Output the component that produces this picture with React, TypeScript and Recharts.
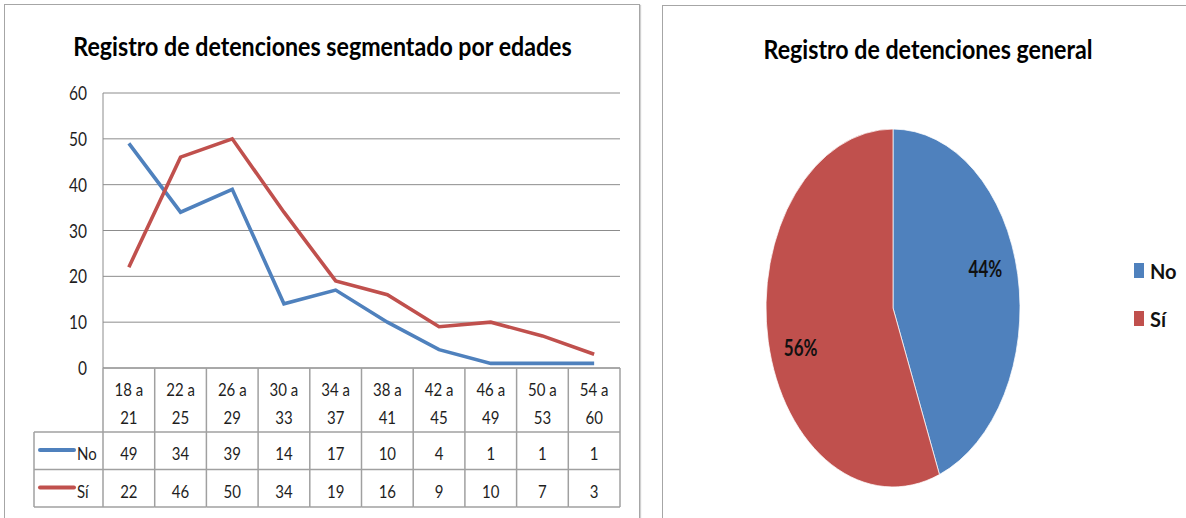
import React from 'react';
import { LineChart, Line, XAxis, YAxis, CartesianGrid, Legend, PieChart, Pie, Cell } from 'recharts';

const categories = ['18 a 21', '22 a 25', '26 a 29', '30 a 33', '34 a 37', '38 a 41', '42 a 45', '46 a 49', '50 a 53', '54 a 60'];
const seriesNo = [49, 34, 39, 14, 17, 10, 4, 1, 1, 1];
const seriesSi = [22, 46, 50, 34, 19, 16, 9, 10, 7, 3];
const yTicks = [0, 10, 20, 30, 40, 50, 60];
const seriesNames = ['No', 'Sí'];
const pieNames = ['No', 'Sí'];
const pieValues = [170, 216];

const titleLine = 'Registro de detenciones segmentado por edades';
const titlePie = 'Registro de detenciones general';

const BLUE = '#4F81BD';
const RED = '#C0504D';
const FONT = 'Lato, "Open Sans", sans-serif';
const TXT = '#1e1e1e';
const GRID = '#8c8c8c';
const TABLE = '#a0a0a0';
const SY = 1.18;

const lineData = categories.map((c, i) => ({ cat: c, No: seriesNo[i], Si: seriesSi[i] }));
const pieData = pieNames.map((n, i) => ({ name: n, value: pieValues[i] }));
const PIE_COLORS = [BLUE, RED];

// layout
const PLOT_LEFT = 103;
const PLOT_RIGHT = 620;
const COL_W = (PLOT_RIGHT - PLOT_LEFT) / categories.length;
const HEADER_H = 64;
const ROW_H = 37.5;

function SText(props: any) {
  const { x, y, size = 15, weight = 400, anchor = 'middle', fill = TXT, sy = SY, children } = props;
  return (
    <text
      transform={`translate(${x},${y}) scale(1,${sy})`}
      x={0}
      y={0}
      textAnchor={anchor}
      dominantBaseline="central"
      fontSize={size}
      fontWeight={weight}
      fontFamily={FONT}
      fill={fill}
    >
      {children}
    </text>
  );
}

function YTick(props: any) {
  const { x, y, payload } = props;
  return <SText x={x} y={y} anchor="end" size={15.5}>{payload.value}</SText>;
}

function TableTick(props: any) {
  const { x, y, payload, index } = props;
  const top = y;
  const left = x - COL_W / 2;
  const right = x + COL_W / 2;
  const r1 = top + HEADER_H;
  const r2 = r1 + ROW_H;
  const r3 = r2 + ROW_H;
  const parts = String(payload.value).split(' a ');
  return (
    <g>
      {index === 0 && <line x1={left} x2={left} y1={top} y2={r3} stroke={TABLE} strokeWidth={1.5} />}
      <line x1={right} x2={right} y1={top} y2={r3} stroke={TABLE} strokeWidth={1.5} />
      <line x1={left} x2={right} y1={r1} y2={r1} stroke={TABLE} strokeWidth={1.5} />
      <line x1={left} x2={right} y1={r2} y2={r2} stroke={TABLE} strokeWidth={1.5} />
      <line x1={left} x2={right} y1={r3} y2={r3} stroke={TABLE} strokeWidth={1.5} />
      <SText x={x} y={top + 21}>{parts[0] + ' a'}</SText>
      <SText x={x} y={top + 49}>{parts[1]}</SText>
      <SText x={x} y={r1 + 21}>{seriesNo[index]}</SText>
      <SText x={x} y={r2 + 21}>{seriesSi[index]}</SText>
    </g>
  );
}

function TableLegend(props: any) {
  const { payload } = props;
  return (
    <svg width={71} height={77} style={{ display: 'block', overflow: 'visible' }}>
      <line x1={1} x2={1} y1={0} y2={75} stroke={TABLE} strokeWidth={1.5} />
      <line x1={1} x2={70} y1={0} y2={0} stroke={TABLE} strokeWidth={1.5} />
      <line x1={1} x2={70} y1={37.5} y2={37.5} stroke={TABLE} strokeWidth={1.5} />
      <line x1={1} x2={70} y1={75} y2={75} stroke={TABLE} strokeWidth={1.5} />
      {(payload || []).map((p: any, i: number) => (
        <g key={i}>
          <line x1={7} x2={41} y1={18 + i * 37.5} y2={18 + i * 37.5} stroke={p.color} strokeWidth={4} strokeLinecap="round" />
          <SText x={44} y={21 + i * 37.5} anchor="start">{p.value}</SText>
        </g>
      ))}
    </svg>
  );
}

function PieLegend(props: any) {
  const { payload } = props;
  return (
    <div>
      {(payload || []).map((p: any, i: number) => (
        <div key={i} style={{ display: 'flex', alignItems: 'center', height: 30, marginBottom: i === 0 ? 18 : 0 }}>
          <div style={{ width: 10, height: 15, background: p.color, marginRight: 6 }} />
          <span style={{ fontFamily: FONT, fontWeight: 700, fontSize: 20, color: '#111', display: 'inline-block', transform: 'scaleY(1.08)' }}>{p.value}</span>
        </div>
      ))}
    </div>
  );
}

const RADIAN = Math.PI / 180;
function PieLabel(props: any) {
  const { cx, cy, midAngle, outerRadius, percent } = props;
  const r = outerRadius * 0.74;
  const x = cx + r * Math.cos(-midAngle * RADIAN);
  const y = cy + r * Math.sin(-midAngle * RADIAN) * 2.25;
  return <SText x={x} y={y} size={17} weight={700} fill="#111" sy={1.3}>{`${Math.round(percent * 100)}%`}</SText>;
}

function Title(props: any) {
  const { text, left, width, cy } = props;
  return (
    <div style={{ position: 'absolute', left, width, top: cy - 20, height: 40, lineHeight: '40px', textAlign: 'center', whiteSpace: 'nowrap' }}>
      <span style={{ display: 'inline-block', fontFamily: FONT, fontWeight: 700, fontSize: 23.2, color: '#000', transform: 'scaleY(1.15)' }}>{text}</span>
    </div>
  );
}

export default function App() {
  return (
    <div style={{ position: 'absolute', left: 0, top: 0, width: 1186, height: 518, overflow: 'hidden', background: '#fff' }}>
      <style>{`.pie-ellipse path.recharts-sector { transform-box: view-box; transform-origin: 230px 308px; transform: scaleY(1.409); }`}</style>
      <div style={{ position: 'absolute', left: 4, top: 4, width: 634, height: 540, border: '1.5px solid #a6a6a6', boxShadow: '1px 1px 1px #d0d0d0' }} />
      <div style={{ position: 'absolute', left: 662, top: 5, width: 540, height: 540, border: '1.5px solid #a6a6a6' }} />
      <Title text={titleLine} left={5} width={635} cy={46} />
      <Title text={titlePie} left={663} width={530} cy={49} />

      <div style={{ position: 'absolute', left: 0, top: 0 }}>
        <LineChart width={640} height={518} data={lineData} margin={{ top: 93, right: 20, left: 0, bottom: 120 }}>
          <CartesianGrid vertical={false} stroke={GRID} strokeWidth={1} />
          <XAxis
            dataKey="cat"
            height={30}
            interval={0}
            padding={{ left: COL_W / 2, right: COL_W / 2 }}
            axisLine={{ stroke: GRID }}
            tickLine={false}
            tickSize={0}
            tickMargin={0}
            tick={<TableTick />}
          />
          <YAxis
            width={103}
            domain={[0, 60]}
            ticks={yTicks}
            interval={0}
            axisLine={{ stroke: GRID }}
            tickLine={false}
            tickSize={0}
            tickMargin={16}
            tick={<YTick />}
          />
          <Legend
            layout="vertical"
            align="center"
            verticalAlign="middle"
            content={<TableLegend />}
            wrapperStyle={{ position: 'absolute', left: 33, top: 432, width: 71, height: 77, bottom: 'auto', right: 'auto' }}
          />
          <Line type="linear" dataKey="No" name={seriesNames[0]} stroke={BLUE} strokeWidth={3.6} dot={false} isAnimationActive={false} />
          <Line type="linear" dataKey="Si" name={seriesNames[1]} stroke={RED} strokeWidth={3.6} dot={false} isAnimationActive={false} />
        </LineChart>
      </div>

      <div className="pie-ellipse" style={{ position: 'absolute', left: 663, top: 0 }}>
        <PieChart width={523} height={518} margin={{ top: 0, right: 0, bottom: 0, left: 0 }}>
          <Pie
            data={pieData}
            dataKey="value"
            nameKey="name"
            cx={230}
            cy={308}
            outerRadius={127}
            startAngle={90}
            endAngle={-270}
            stroke="#ffffff"
            strokeWidth={0.6}
            label={<PieLabel />}
            labelLine={false}
            isAnimationActive={false}
          >
            {pieData.map((d, i) => (
              <Cell key={d.name} fill={PIE_COLORS[i]} />
            ))}
          </Pie>
          <Legend
            layout="vertical"
            align="center"
            verticalAlign="middle"
            content={<PieLegend />}
            wrapperStyle={{ position: 'absolute', left: 471, top: 255, width: 60, bottom: 'auto', right: 'auto' }}
          />
        </PieChart>
      </div>
    </div>
  );
}
